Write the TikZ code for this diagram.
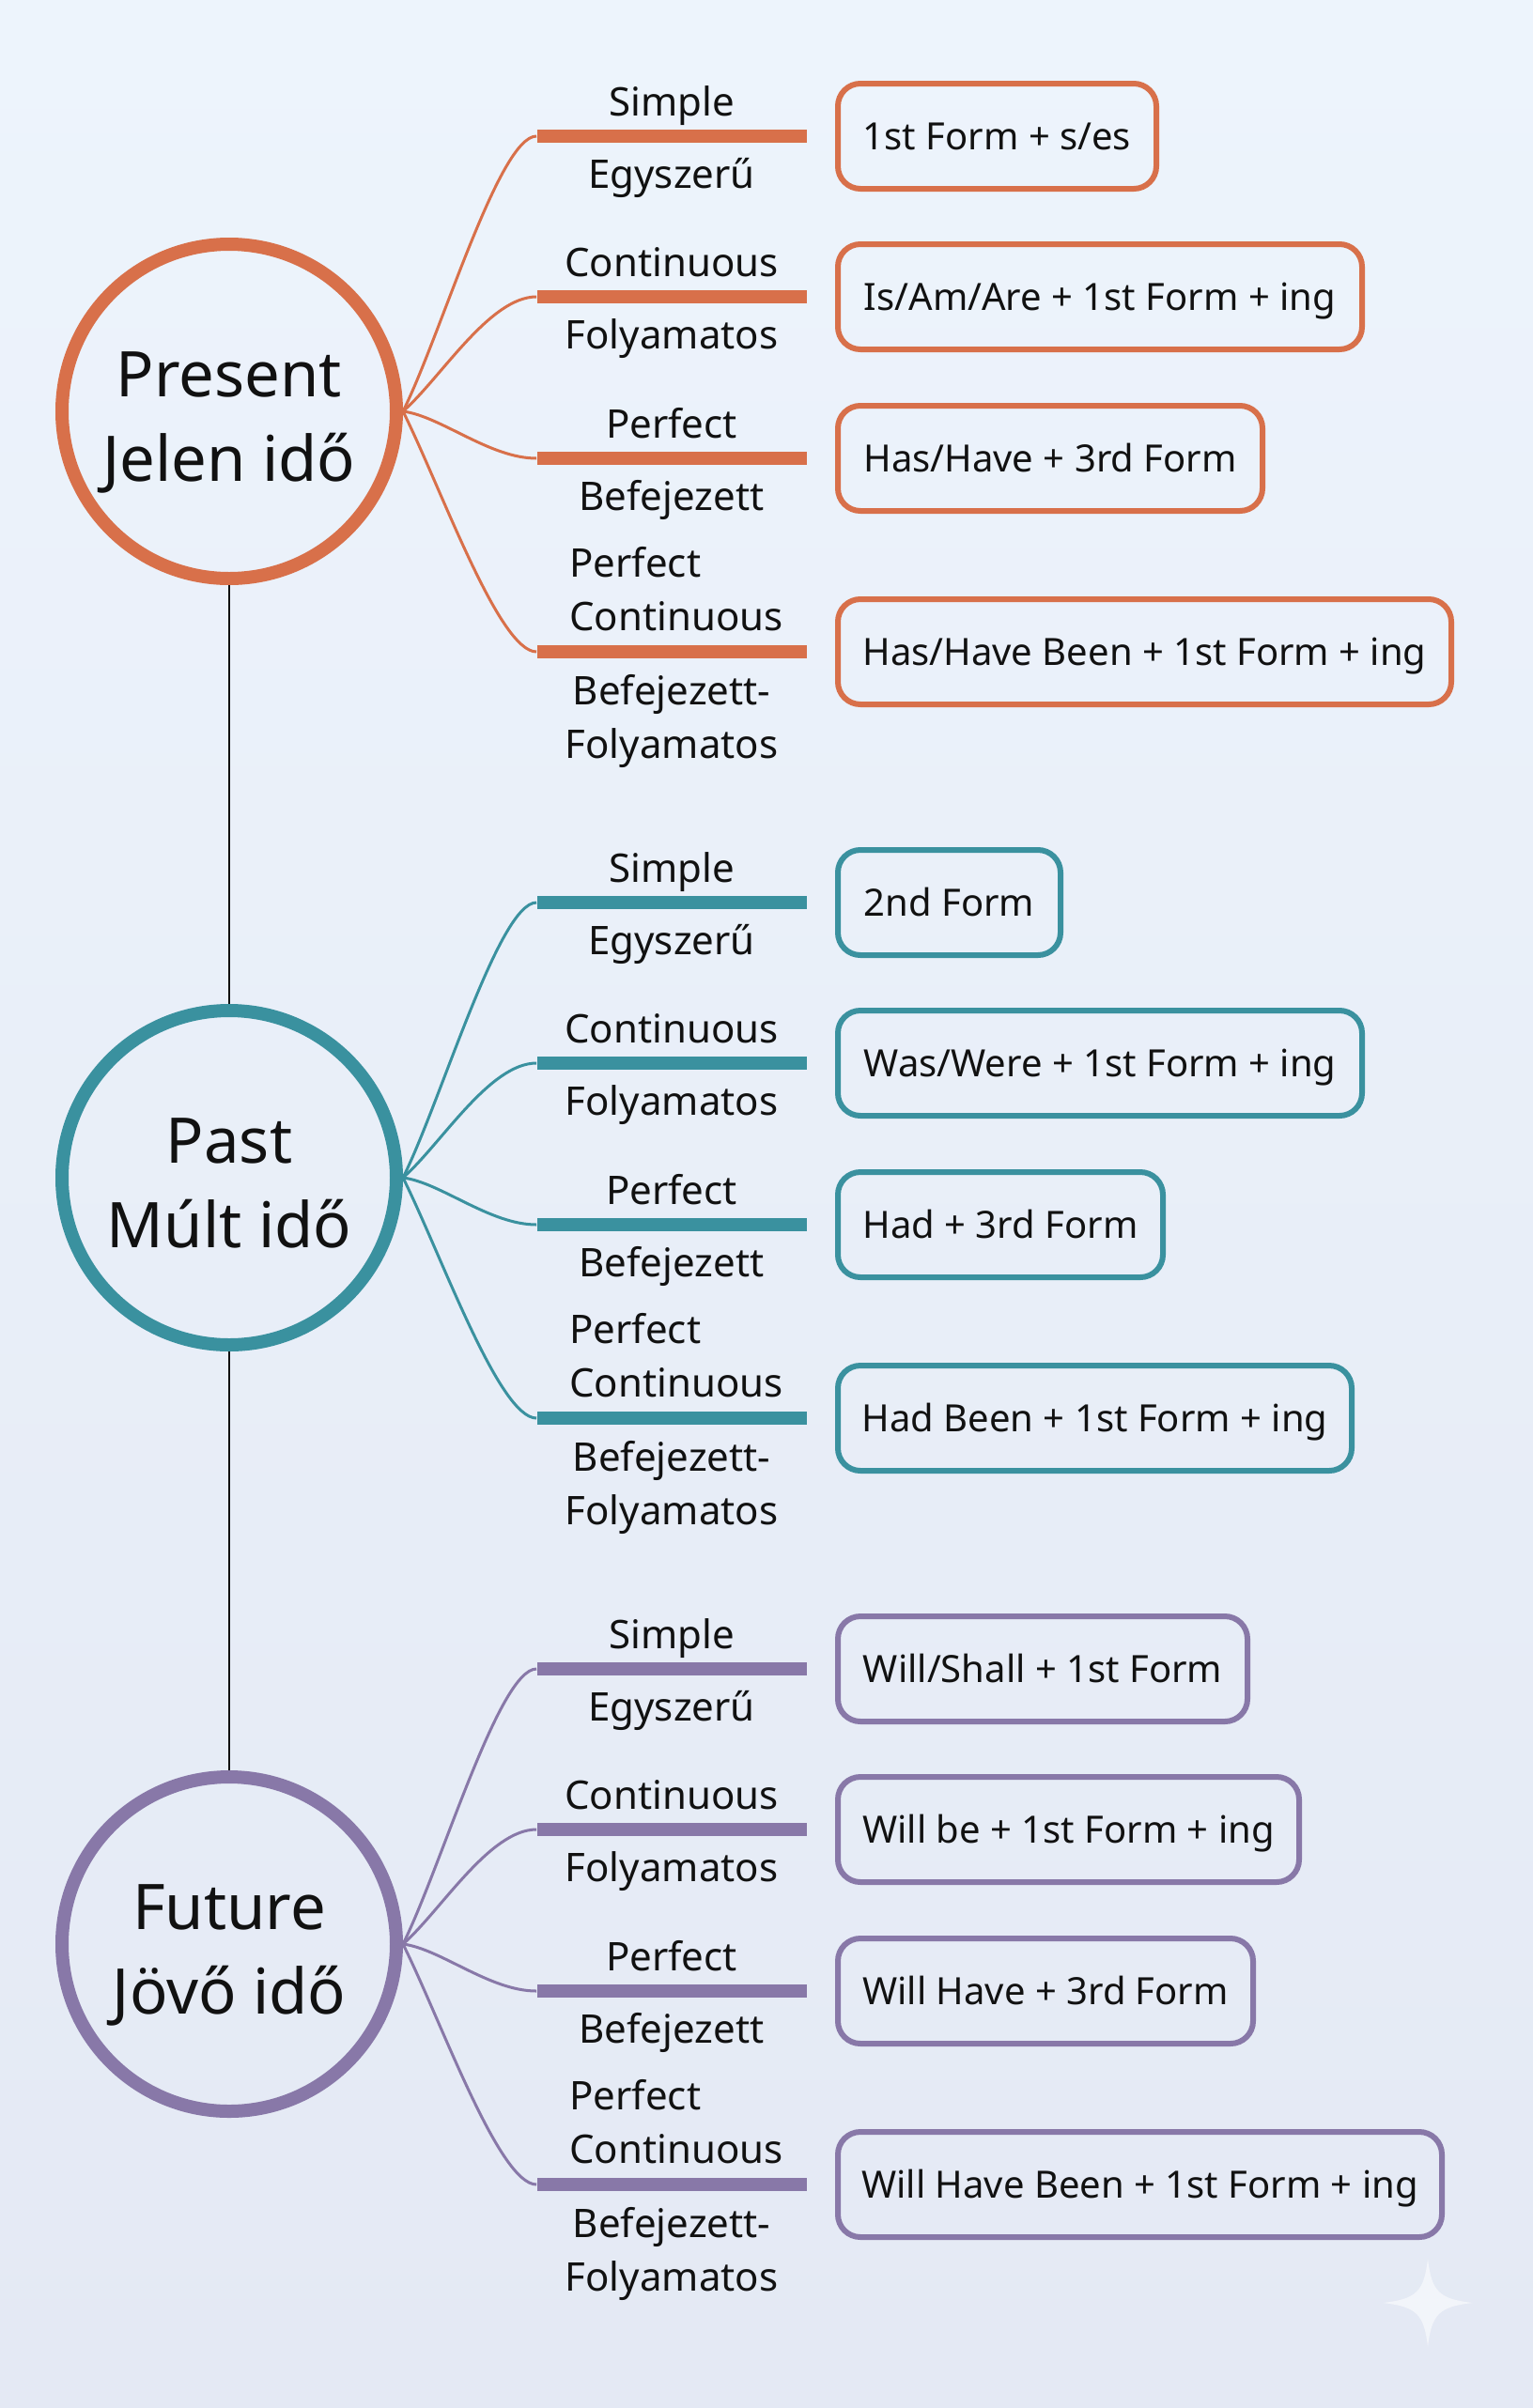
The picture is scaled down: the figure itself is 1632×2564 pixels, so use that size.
\documentclass[tikz,border=0pt]{standalone}
\usepackage{fontspec}
\setmainfont{Noto Sans}
\definecolor{orng}{RGB}{216,112,74}
\definecolor{teal}{RGB}{58,145,159}
\definecolor{purp}{RGB}{136,120,168}
\definecolor{ink}{RGB}{17,17,17}
\definecolor{bgtop}{RGB}{237,244,252}
\definecolor{bgbot}{RGB}{228,233,244}
\newcommand{\tenserow}[7]{%
  \node[barnode=#2] (#1bar) at (715,#3) {};
  \node[lbl, anchor=base] (#1up) at (715,{#3-22}) {#4};
  \node[lbl, anchor=base] (#1low) at (715,{#3+55}) {#5};
  \node[formbox=#2, minimum width=#7, anchor=west] (#1box) at (889,#3) {#6};
}
\newcommand{\tenserowpc}[5]{%
  \node[barnode=#2] (#1bar) at (715,#3) {};
  \node[lbl, align=left, anchor=south west] (#1up) at (606,{#3-22}) {Perfect\\Continuous};
  \node[lbl, align=center, anchor=north] (#1low) at (715,{#3+24}) {Befejezett-\\Folyamatos};
  \node[formbox=#2, minimum width=#5, anchor=west] (#1box) at (889,#3) {#4};
}
\begin{document}
\begin{tikzpicture}[x=0.5pt,y=-0.5pt,
  tensec/.style={circle, draw=#1, line width=7pt, minimum size=178pt, inner sep=0pt},
  tensetext/.style={font=\fontsize{33.5}{45}\selectfont, align=center, text=ink, inner sep=0pt},
  barnode/.style={fill=#1, draw=none, minimum width=143.5pt, minimum height=7pt, inner sep=0pt},
  branch/.style={draw=#1, line width=1.5pt},
  lbl/.style={font=\fontsize{21}{28.5}\selectfont, text=ink, inner sep=0pt},
  formbox/.style={draw=#1, line width=3pt, rounded corners=12pt, minimum height=56pt, inner sep=0pt, text height=16pt, text depth=2pt, font=\fontsize{20}{24}\selectfont, text=ink},
  link/.style={draw=ink, line width=1pt}
]
\shade[top color=bgtop, bottom color=bgbot] (0,0) rectangle (1632,2564);
\useasboundingbox (0,0) rectangle (1632,2564);
% faint sparkle mark
\fill[white, opacity=0.55] (1520,2405) .. controls (1524,2440) and (1532,2448) .. (1568,2452)
  .. controls (1532,2456) and (1524,2464) .. (1520,2499)
  .. controls (1516,2464) and (1508,2456) .. (1472,2452)
  .. controls (1508,2448) and (1516,2440) .. (1520,2405) -- cycle;

% tense circles
\node[tensec=orng] (pres) at (244,438) {};
\node[tensec=teal] (past) at (244,1254) {};
\node[tensec=purp] (fut) at (244,2070) {};
\node[tensetext, anchor=north] (prestxt) at (244,374) {Present\\Jelen idő};
\node[tensetext, anchor=north] (pasttxt) at (244,1190) {Past\\Múlt idő};
\node[tensetext, anchor=north] (futtxt) at (244,2006) {Future\\Jövő idő};
\draw[link] (pres.south) -- (past.north);
\draw[link] (past.south) -- (fut.north);

% Present
\tenserow{pa}{orng}{145}{Simple}{Egyszerű}{1st Form + s/es}{169.5pt}
\tenserow{pb}{orng}{316}{Continuous}{Folyamatos}{Is/Am/Are + 1st Form + ing}{279pt}
\tenserow{pc}{orng}{488}{Perfect}{Befejezett}{Has/Have + 3rd Form}{226pt}
\tenserowpc{pd}{orng}{694}{Has/Have Been + 1st Form + ing}{326.5pt}
% Past
\tenserow{qa}{teal}{961}{Simple}{Egyszerű}{2nd Form}{118.5pt}
\tenserow{qb}{teal}{1132}{Continuous}{Folyamatos}{Was/Were + 1st Form + ing}{279pt}
\tenserow{qc}{teal}{1304}{Perfect}{Befejezett}{Had + 3rd Form}{173pt}
\tenserowpc{qd}{teal}{1510}{Had Been + 1st Form + ing}{273.5pt}
% Future
\tenserow{fa}{purp}{1777}{Simple}{Egyszerű}{Will/Shall + 1st Form}{218pt}
\tenserow{fb}{purp}{1948}{Continuous}{Folyamatos}{Will be + 1st Form + ing}{245.5pt}
\tenserow{fc}{purp}{2120}{Perfect}{Befejezett}{Will Have + 3rd Form}{221pt}
\tenserowpc{fd}{purp}{2326}{Will Have Been + 1st Form + ing}{321.5pt}

% branches
\foreach \c/\r/\col in {pres/p/orng, past/q/teal, fut/f/purp}{
  \draw[branch=\col] (\c.east) .. controls +(40,-80) and +(-40,0) .. (\r abar.west);
  \draw[branch=\col] (\c.east) .. controls +(40,-35) and +(-50,0) .. (\r bbar.west);
  \draw[branch=\col] (\c.east) .. controls +(40,5) and +(-50,0) .. (\r cbar.west);
  \draw[branch=\col] (\c.east) .. controls +(40,80) and +(-40,0) .. (\r dbar.west);
}
\end{tikzpicture}
\end{document}
